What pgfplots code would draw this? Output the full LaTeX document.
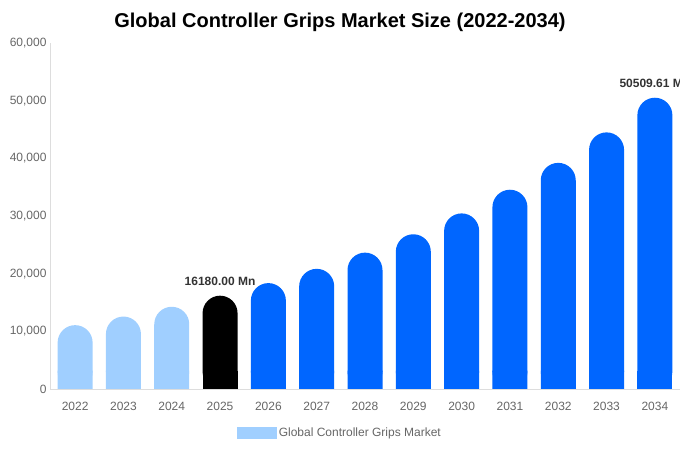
\documentclass[border=0pt]{standalone}
\usepackage{pgfplots}
\usepackage{pgfplotstable}
\pgfplotsset{compat=1.18}
\usepackage{fontspec}
\setmainfont{Liberation Sans}
\definecolor{lightbar}{HTML}{A0CFFF}
\definecolor{bluebar}{HTML}{0066FF}
\definecolor{ticktext}{HTML}{666666}
\definecolor{axisline}{HTML}{DDDDDD}
\pgfplotstableread{
x y
0 11072
1 12564
2 14258
}\histdata
\pgfplotstableread{
x y label
3 16180 {16180.00 Mn}
}\basedata
\pgfplotstableread{
x y
4 18361
5 20836
6 23645
7 26832
8 30449
9 34554
10 39212
11 44498
}\forecastdata
\pgfplotstableread{
x y label
12 50509.61 {50509.61 Mn}
}\lastdata
% height (data units) of the square foot that hides the rounding at the bottom
\def\foot{3200}
\begin{document}
\begin{tikzpicture}
\begin{axis}[
  name=ax,
  scale only axis,
  width=630pt, height=346pt,
  xmin=-0.52, xmax=12.52,
  ymin=0, ymax=60000,
  xtick={0,...,12},
  xticklabels={2022,2023,2024,2025,2026,2027,2028,2029,2030,2031,2032,2033,2034},
  ytick={0,10000,20000,30000,40000,50000,60000},
  /pgf/number format/assume math mode=true,
  yticklabel style={/pgf/number format/1000 sep={,}, font=\fontsize{12}{14}\selectfont, text=ticktext},
  xticklabel style={font=\fontsize{12}{14}\selectfont, text=ticktext, yshift=-10pt},
  scaled y ticks=false,
  major tick length=0pt,
  axis x line*=bottom, axis y line*=left,
  axis line style={axisline},
  x axis line style={-}, y axis line style={-},
  clip=false,
  legend style={at={(0.46,-0.127)}, anchor=center, draw=none, fill=none,
    font=\fontsize{12}{14}\selectfont, text=ticktext},
  legend image code/.code={\fill[lightbar, sharp corners] (0pt,-6pt) rectangle (40pt,6pt);},
  roundbar/.style={ybar, bar width=35pt, bar shift=0pt, draw=none, fill=#1, rounded corners=17.5pt},
  footbar/.style={ybar, bar width=35pt, bar shift=0pt, draw=none, fill=#1},
  lab/.style={point meta=explicit symbolic, nodes near coords,
    nodes near coords style={font=\bfseries\fontsize{12}{14}\selectfont, text=black!80, anchor=south, yshift=7pt}},
]
% 2022-2024
\addplot[roundbar=lightbar] table[x=x, y=y] {\histdata};
\addlegendentry{Global Controller Grips Market}
\addplot[footbar=lightbar, forget plot] table[x=x, y expr=\foot] {\histdata};
% 2025
\addplot[roundbar=black, forget plot] table[x=x, y=y] {\basedata};
\addplot[footbar=black, forget plot] table[x=x, y expr=\foot] {\basedata};
\addplot[draw=none, mark=none, lab, forget plot] table[x=x, y=y, meta=label] {\basedata};
% 2026-2033
\addplot[roundbar=bluebar, forget plot] table[x=x, y=y] {\forecastdata};
\addplot[footbar=bluebar, forget plot] table[x=x, y expr=\foot] {\forecastdata};
% 2034
\addplot[roundbar=bluebar, forget plot] table[x=x, y=y] {\lastdata};
\addplot[footbar=bluebar, forget plot] table[x=x, y expr=\foot] {\lastdata};
\addplot[draw=none, mark=none, lab, forget plot] table[x=x, y=y, meta=label] {\lastdata};
\end{axis}
\node[font=\bfseries\fontsize{20}{24}\selectfont, anchor=center] at ([xshift=-25pt, yshift=21pt]ax.north) {Global Controller Grips Market Size (2022-2034)};
\pgfresetboundingbox
\useasboundingbox ([xshift=-50pt,yshift=-61pt]ax.south west) rectangle ([yshift=43pt]ax.north east);
\end{tikzpicture}
\end{document}
